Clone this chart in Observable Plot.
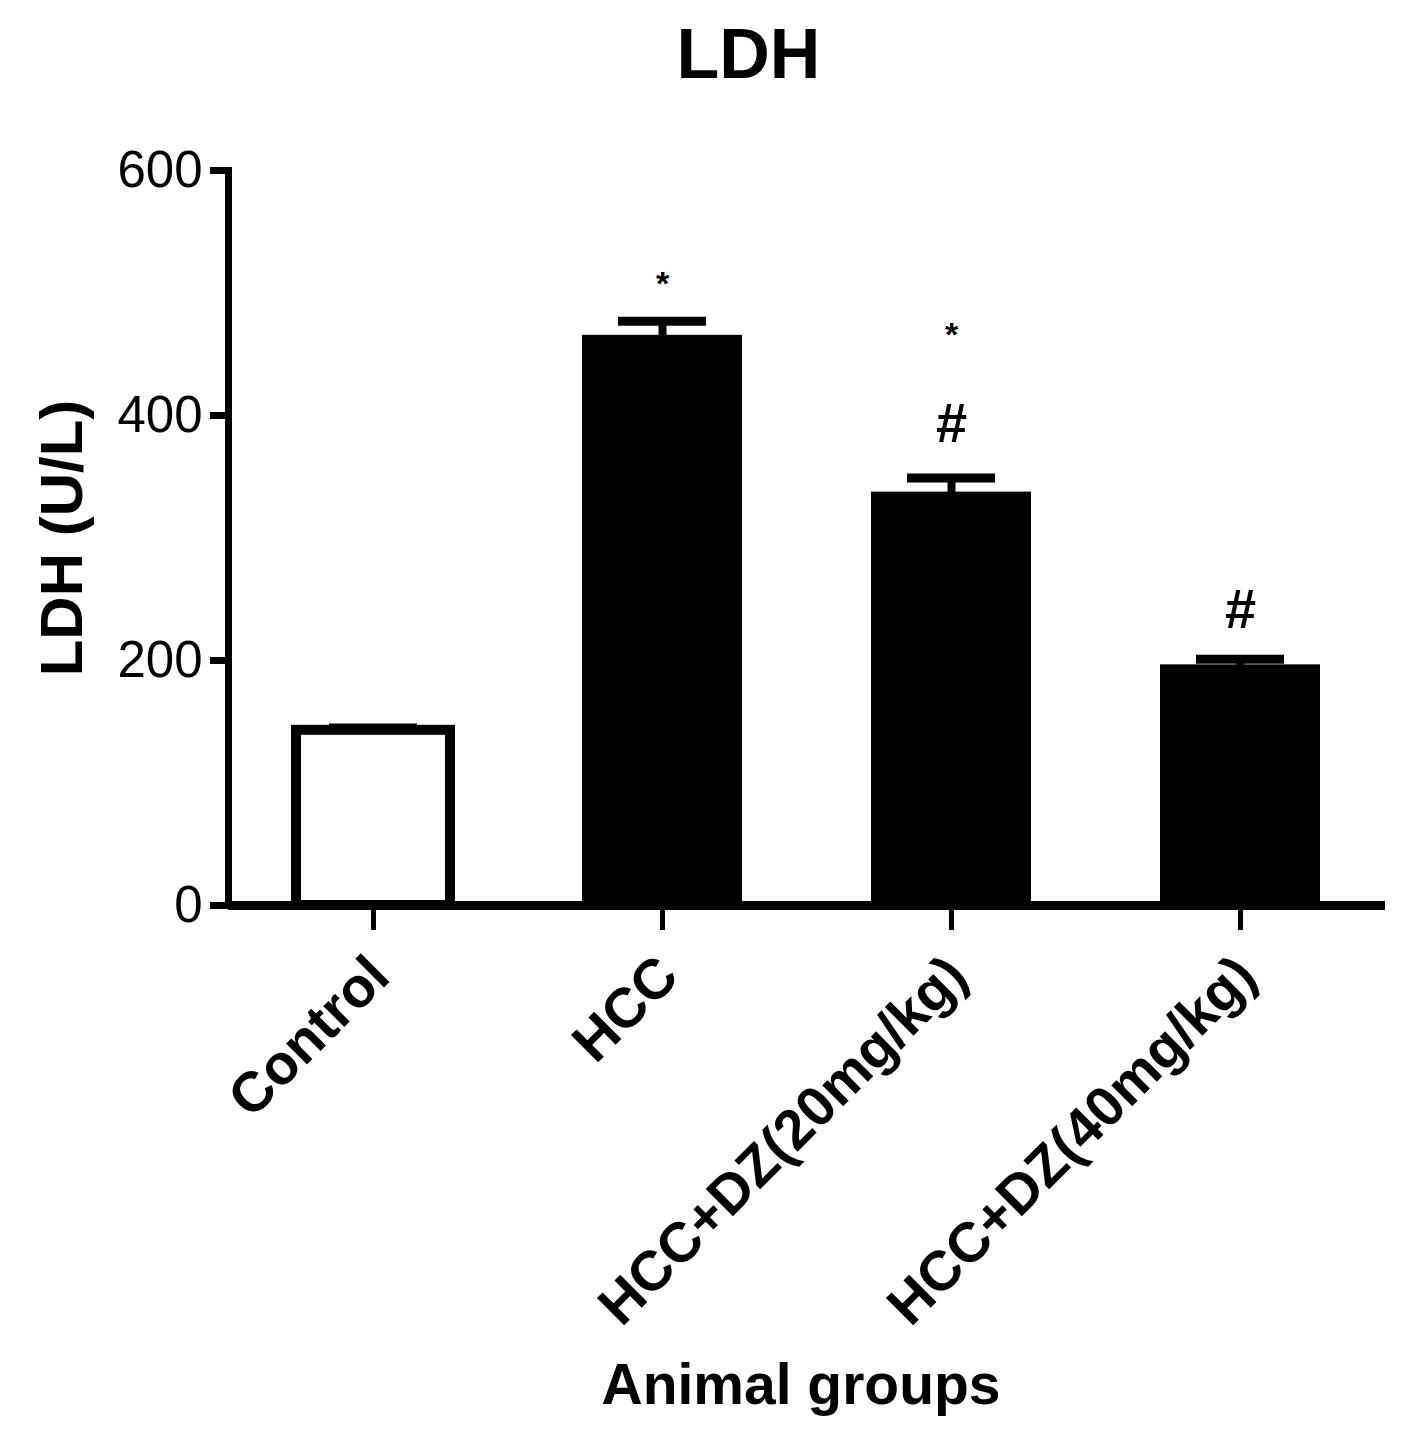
<!DOCTYPE html>
<html>
<head>
<meta charset="utf-8">
<script src="https://cdn.jsdelivr.net/npm/d3@7"></script>
<script src="https://cdn.jsdelivr.net/npm/@observablehq/plot@0.6"></script>
<style>
  html, body { margin: 0; padding: 0; background: white; }
  #title { width: 1423px; height: 110px; line-height: 108px; text-align: center;
    font-family: "Liberation Sans", Arial, sans-serif; font-weight: bold; font-size: 70px; color: black;
    box-sizing: border-box; padding-left: 74px; }
</style>
</head>
<body>
<div id="title">LDH</div>
<div id="chart"></div>
<script>
const groups = ["Control", "HCC", "HCC+DZ(20mg/kg)", "HCC+DZ(40mg/kg)"];
const means = [143, 463, 335, 194];
const errors = [2, 14, 14, 7];
const yTicks = [0, 200, 400, 600];
const annoGroups = ["HCC", "HCC+DZ(20mg/kg)", "HCC+DZ(20mg/kg)", "HCC+DZ(40mg/kg)"];
const annoSymbols = ["*", "*", "#", "#"];
const annoValues = [514, 472, 393, 241];

const data = groups.map((g, i) => ({group: g, mean: means[i], err: errors[i]}));
const annos = annoGroups.map((g, i) => ({group: g, sym: annoSymbols[i], v: annoValues[i]}));

const font = "Liberation Sans, Arial, sans-serif";
const chart = Plot.plot({
  width: 1423,
  height: 1344,
  marginTop: 60,
  marginBottom: 549,
  marginLeft: 228,
  marginRight: 38,
  style: {fontFamily: font, background: "white", color: "black"},
  x: {domain: groups, paddingInner: 0.466, paddingOuter: 0.233, label: null},
  y: {domain: [0, 600], label: null},
  marks: [
    Plot.barY(data.filter(d => d.group === "Control"), {x: "group", y: "mean", fill: "white", stroke: "black", strokeWidth: 10}),
    Plot.barY(data.filter(d => d.group !== "Control"), {x: "group", y: "mean", fill: "black", stroke: "black", strokeWidth: 6}),
    Plot.ruleX(data, {x: "group", y1: "mean", y2: d => d.mean + d.err, stroke: "black", strokeWidth: 8}),
    Plot.tickY(data, {x: "group", y: d => d.mean + d.err, stroke: "black", strokeWidth: 9, insetLeft: 33, insetRight: 33}),
    Plot.text(annos.filter(d => d.sym === "*"), {x: "group", y: "v", text: "sym", fontSize: 34, fontWeight: "bold", dy: 8}),
    Plot.text(annos.filter(d => d.sym === "#"), {x: "group", y: "v", text: "sym", fontSize: 56, fontWeight: "bold"}),
    Plot.frame({anchor: "left", stroke: "black", strokeWidth: 7}),
    Plot.ruleY([0], {stroke: "black", strokeWidth: 9}),
    Plot.axisY({ticks: yTicks, tickSize: 18, tickPadding: 8, fontSize: 51, strokeWidth: 7, label: null}),
    Plot.axisX({tickSize: 25, tickFormat: () => "", strokeWidth: 5, label: null}),
    Plot.axisX({tickSize: 0, tickPadding: 61, tickRotate: -45, fontSize: 56, fontWeight: "bold", label: null, dx: 6}),
    Plot.text(["LDH (U/L)"], {frameAnchor: "left", textAnchor: "middle", rotate: -90, dx: -166, fontSize: 60, fontWeight: "bold"}),
    Plot.text(["Animal groups"], {frameAnchor: "bottom", dy: 498, dx: -6, fontSize: 57, fontWeight: "bold"})
  ]
});
document.getElementById("chart").appendChild(chart);
</script>
</body>
</html>
